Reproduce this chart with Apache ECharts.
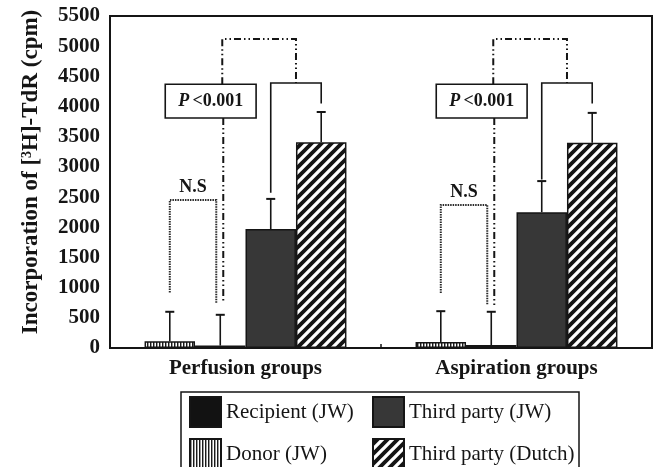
<!DOCTYPE html>
<html>
<head>
<meta charset="utf-8">
<script src="https://cdn.jsdelivr.net/npm/echarts@6/dist/echarts.min.js"></script>
<style>
  html, body { margin: 0; padding: 0; background: #fff; }
  #chart { width: 662px; height: 467px; }
</style>
</head>
<body>
<div id="chart"></div>
<script>
// Groups and series
const categories = ['Perfusion groups', 'Aspiration groups'];
const seriesNames = ['Donor (JW)', 'Recipient (JW)', 'Third party (JW)', 'Third party (Dutch)'];
const legendLeftColumn = ['Recipient (JW)', 'Donor (JW)'];
const legendRightColumn = ['Third party (JW)', 'Third party (Dutch)'];

// Mean incorporation (cpm)
const donor = [110, 100];
const recipient = [40, 50];
const thirdJW = [1970, 2250];
const thirdDutch = [3410, 3400];

// Standard deviations (cpm)
const donorSD = [490, 510];
const recipientSD = [510, 550];
const thirdJWSD = [500, 515];
const thirdDutchSD = [500, 495];

// Y axis
const yTicks = [0, 500, 1000, 1500, 2000, 2500, 3000, 3500, 4000, 4500, 5000, 5500];

// Significance annotations, in cpm, one entry per group
const nsLevel = [2450, 2370];
const nsLeftEnd = [920, 910];
const nsRightEnd = [750, 710];
const boxTop = [4370, 4370];
const boxBottom = [3810, 3810];
const boxLinkEnd = [760, 680];
const pairLevel = [4390, 4390];
const pairLeftEnd = [2570, 2790];
const pairRightEnd = [4050, 4050];
const linkLevel = [5120, 5120];
const nsText = 'N.S';
const pText = '{p|P} {v|<0.001}';

const CAT_GAP = 0.255;
const SERIF = '"Liberation Serif", "Times New Roman", serif';
const INK = '#151515';

// Fill patterns
function makeTile(w, h, draw) {
  const c = document.createElement('canvas');
  c.width = w; c.height = h;
  draw(c.getContext('2d'), w, h);
  return c;
}
const verticalStripes = makeTile(3, 4, (ctx, w, h) => {
  ctx.fillStyle = '#ffffff'; ctx.fillRect(0, 0, w, h);
  ctx.fillStyle = '#1a1a1a'; ctx.fillRect(0, 0, 1, h);
  ctx.fillStyle = '#9a9a9a'; ctx.fillRect(1, 0, 1, h);
});
const diagonalHatch = makeTile(10, 10, (ctx, w, h) => {
  ctx.fillStyle = '#141414'; ctx.fillRect(0, 0, w, h);
  ctx.strokeStyle = '#ffffff'; ctx.lineWidth = 3.3;
  ctx.beginPath();
  ctx.moveTo(-5, 5); ctx.lineTo(5, -5);
  ctx.moveTo(0, 10); ctx.lineTo(10, 0);
  ctx.moveTo(5, 15); ctx.lineTo(15, 5);
  ctx.stroke();
});

const fills = [
  { image: verticalStripes, repeat: 'repeat' },
  '#121212',
  '#373737',
  { image: diagonalHatch, repeat: 'repeat' }
];
const means = [donor, recipient, thirdJW, thirdDutch];
const sds = [donorSD, recipientSD, thirdJWSD, thirdDutchSD];

function barX(api, g, k) {
  const c = api.coord([g, 0]);
  const band = api.size([1, 0])[0];
  const bw = band * (1 - CAT_GAP) / 4;
  return { x: c[0] + (k - 1.5) * bw, bw: bw };
}

// Error bar: stem from bar top to mean + SD, with a cap
function renderError(params, api) {
  const g = api.value(0);
  const k = api.value(3);
  const p = barX(api, g, k);
  const yBase = api.coord([g, api.value(1)])[1];
  const yTop = api.coord([g, api.value(1) + api.value(2)])[1];
  return {
    type: 'group',
    children: [
      { type: 'line', shape: { x1: p.x, y1: yBase, x2: p.x, y2: yTop }, style: { stroke: INK, lineWidth: 1.6 } },
      { type: 'line', shape: { x1: p.x - 4.5, y1: yTop, x2: p.x + 4.5, y2: yTop }, style: { stroke: INK, lineWidth: 2 } }
    ]
  };
}

// Brackets, P-value box and linking lines for one group
function renderNotes(params, api) {
  const i = params.dataIndex;
  const g = api.value(0);
  const y = v => api.coord([g, v])[1];
  const bw = barX(api, g, 0).bw;
  const xDonor = barX(api, g, 0).x;
  const xRec = barX(api, g, 1).x;
  const xJW = barX(api, g, 2).x;
  const xDu = barX(api, g, 3).x;
  const xPairMid = (xJW + xDu) / 2;
  const dashDot = [7, 3, 1.5, 3, 1.5, 3];
  const boxW = bw * 1.8;
  const boxX = xRec - bw * 1.09;
  return {
    type: 'group',
    children: [
      {
        type: 'polyline',
        shape: { points: [[xDonor, y(nsLeftEnd[i])], [xDonor, y(nsLevel[i])], [xRec - 4, y(nsLevel[i])], [xRec - 4, y(nsRightEnd[i])]] },
        style: { stroke: '#2a2a2a', lineWidth: 2, lineDash: [1.5, 1], fill: null }
      },
      {
        type: 'text',
        x: (xDonor + xRec - 4) / 2, y: y(nsLevel[i]) - 4,
        style: { text: nsText, font: 'bold 18px ' + SERIF, fill: INK, align: 'center', verticalAlign: 'bottom' }
      },
      {
        type: 'polyline',
        shape: { points: [[xRec + 2, y(boxTop[i])], [xRec + 2, y(linkLevel[i])], [xPairMid, y(linkLevel[i])], [xPairMid, y(pairLevel[i])]] },
        style: { stroke: INK, lineWidth: 2, lineDash: dashDot, fill: null }
      },
      {
        type: 'line',
        shape: { x1: xRec + 3, y1: y(boxBottom[i]), x2: xRec + 3, y2: y(boxLinkEnd[i]) },
        style: { stroke: INK, lineWidth: 2, lineDash: dashDot }
      },
      {
        type: 'rect',
        shape: { x: boxX, y: y(boxTop[i]), width: boxW, height: y(boxBottom[i]) - y(boxTop[i]) },
        style: { fill: '#fff', stroke: INK, lineWidth: 1.6 }
      },
      {
        type: 'text',
        x: boxX + boxW / 2, y: (y(boxTop[i]) + y(boxBottom[i])) / 2,
        style: {
          text: pText, align: 'center', verticalAlign: 'middle',
          rich: {
            p: { font: 'italic bold 18px ' + SERIF, fill: INK },
            v: { font: 'bold 18px ' + SERIF, fill: INK }
          }
        }
      },
      {
        type: 'polyline',
        shape: { points: [[xJW, y(pairLeftEnd[i])], [xJW, y(pairLevel[i])], [xDu, y(pairLevel[i])], [xDu, y(pairRightEnd[i])]] },
        style: { stroke: INK, lineWidth: 1.6, fill: null }
      }
    ]
  };
}

const barSeries = seriesNames.map((name, k) => ({
  name: name,
  type: 'bar',
  data: means[k],
  barGap: '0%',
  barCategoryGap: (CAT_GAP * 100) + '%',
  itemStyle: { color: fills[k], borderColor: INK, borderWidth: 1.5 },
  silent: true,
  z: 2
}));

const errorSeries = seriesNames.map((name, k) => ({
  type: 'custom',
  name: name + ' SD',
  renderItem: renderError,
  data: categories.map((c, g) => [g, means[k][g], sds[k][g], k]),
  encode: { x: 0, y: 1 },
  z: 3,
  silent: true
}));

const noteSeries = {
  type: 'custom',
  name: 'notes',
  renderItem: renderNotes,
  data: categories.map((c, g) => [g, linkLevel[g]]),
  encode: { x: 0, y: 1 },
  z: 4,
  silent: true
};

const legendCommon = {
  type: 'plain',
  orient: 'vertical',
  top: 396,
  width: 200,
  height: 200,
  padding: 0,
  itemWidth: 31, itemHeight: 30, itemGap: 10,
  icon: 'rect',
  selectedMode: false,
  textStyle: { fontFamily: SERIF, fontSize: 21, color: INK, lineHeight: 30 }
};

const chart = echarts.init(document.getElementById('chart'), null, { renderer: 'canvas' });
chart.setOption({
  animation: false,
  backgroundColor: '#fff',
  grid: {
    left: 110, right: 10, top: 16, bottom: 119,
    show: true, borderColor: INK, borderWidth: 2, backgroundColor: 'transparent'
  },
  legend: [
    Object.assign({ data: legendLeftColumn, left: 189 }, legendCommon),
    Object.assign({ data: legendRightColumn, left: 372 }, legendCommon)
  ],
  graphic: [{
    type: 'rect',
    x: 181, y: 392,
    shape: { x: 0, y: 0, width: 398, height: 90 },
    style: { fill: null, stroke: INK, lineWidth: 1.5 },
    silent: true,
    z: 0
  }],
  xAxis: {
    type: 'category',
    data: categories,
    axisLine: { lineStyle: { color: INK, width: 2 } },
    axisTick: { show: true, inside: true, length: 4, lineStyle: { color: INK, width: 1.5 } },
    axisLabel: { fontFamily: SERIF, fontWeight: 'bold', fontSize: 21, color: INK, margin: 10 },
    splitLine: { show: false }
  },
  yAxis: {
    type: 'value',
    min: yTicks[0], max: yTicks[yTicks.length - 1], interval: yTicks[1] - yTicks[0],
    axisLine: { show: true, lineStyle: { color: INK, width: 2 } },
    axisTick: { show: false },
    splitLine: { show: false },
    axisLabel: {
      fontFamily: SERIF, fontWeight: 'bold', fontSize: 21, color: INK, margin: 10,
      formatter: v => String(v)
    },
    name: 'Incorporation of [{sup|3}H]-TdR (cpm)',
    nameLocation: 'middle',
    nameGap: 67,
    nameRotate: 90,
    nameTextStyle: {
      fontFamily: SERIF, fontWeight: 'bold', fontSize: 23, color: INK,
      padding: [0, 0, 0, 20],
      rich: { sup: { fontFamily: SERIF, fontWeight: 'bold', fontSize: 14, color: INK, verticalAlign: 'top', padding: [0, 0, 9, 0] } }
    }
  },
  series: barSeries.concat(errorSeries, [noteSeries])
});
</script>
</body>
</html>
